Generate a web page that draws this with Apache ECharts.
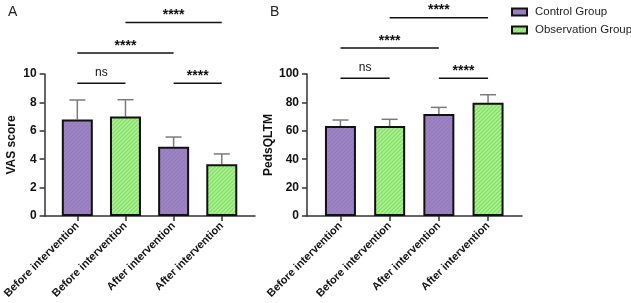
<!DOCTYPE html>
<html>
<head>
<meta charset="utf-8">
<script src="https://cdn.jsdelivr.net/npm/echarts@6/dist/echarts.min.js"></script>
<style>
  html,body{margin:0;padding:0;background:#fff;}
  #main{width:631px;height:303px;}
</style>
</head>
<body>
<div id="main"></div>
<script>
// x categories (same in both panels)
var categories = ['Before intervention', 'Before intervention', 'After intervention', 'After intervention'];
// group of each bar: 0 = Control, 1 = Observation
var groupOf = [0, 1, 0, 1];
var groupNames = ['Control Group', 'Observation Group'];

// panel A: VAS score
var vasMean = [6.8, 7.0, 4.88, 3.64];
var vasSd = [1.37, 1.19, 0.68, 0.73];
// panel B: PedsQLTM
var pedsMean = [63.4, 63.4, 71.8, 79.8];
var pedsSd = [4.2, 4.7, 4.7, 5.6];

// significance brackets: [from, to, level, label]
var sigPairs = [
  [0, 1, 0, 'ns'],
  [2, 3, 0, '****'],
  [0, 2, 1, '****'],
  [1, 3, 2, '****']
];

var font = 'Liberation Sans, Arial, sans-serif';

function stripes(base, line){
  var c = document.createElement('canvas');
  c.width = 4; c.height = 4;
  var ctx = c.getContext('2d');
  ctx.fillStyle = base;
  ctx.fillRect(0, 0, 4, 4);
  ctx.strokeStyle = line;
  ctx.lineWidth = 1.2;
  ctx.beginPath();
  ctx.moveTo(-1, 5); ctx.lineTo(5, -1);
  ctx.moveTo(-1, 1); ctx.lineTo(1, -1);
  ctx.moveTo(3, 5); ctx.lineTo(5, 3);
  ctx.stroke();
  return {image: c, repeat: 'repeat'};
}
var fills = [stripes('#7c8ede', '#c46c92'), stripes('#86e46c', '#b9f09c')];

function barData(means, g){
  var out = [];
  means.forEach(function(v, i){
    if (groupOf[i] === g) out.push([i, v]);
  });
  return out;
}

function panel(idx, means, sds, yMax, yInt, yName){
  var series = [];
  [0, 1].forEach(function(g){
    series.push({
      name: groupNames[g],
      type: 'bar',
      xAxisIndex: idx, yAxisIndex: idx,
      barWidth: 31,
      barGap: '-100%',
      itemStyle: {color: fills[g], borderColor: '#111', borderWidth: 2},
      data: barData(means, g),
      z: 3
    });
  });
  // error bars (upper only)
  series.push({
    type: 'custom',
    xAxisIndex: idx, yAxisIndex: idx,
    z: 2,
    renderItem: function(params, api){
      var x = api.value(0), m = api.value(1), s = api.value(2);
      var p0 = api.coord([x, m]);
      var p1 = api.coord([x, m + s]);
      var st = {stroke: '#7a7a7a', lineWidth: 1.5};
      return {type: 'group', children: [
        {type: 'line', shape: {x1: p0[0], y1: p0[1], x2: p1[0], y2: p1[1]}, style: st},
        {type: 'line', shape: {x1: p1[0] - 8, y1: p1[1], x2: p1[0] + 8, y2: p1[1]}, style: st}
      ]};
    },
    data: means.map(function(v, i){ return [i, v, sds[i]]; })
  });
  // significance brackets
  var topVal = Math.max.apply(null, means.map(function(v, i){ return v + sds[i]; }));
  series.push({
    type: 'custom',
    xAxisIndex: idx, yAxisIndex: idx,
    clip: false,
    z: 5,
    renderItem: function(params, api){
      var a = api.value(0), b = api.value(1), lv = api.value(2);
      var label = sigPairs[params.dataIndex][3];
      var base = api.coord([0, topVal])[1] - 16.5;
      var y = base - lv * 30.3;
      var x1 = api.coord([a, 0])[0], x2 = api.coord([b, 0])[0];
      var isNs = label === 'ns';
      return {type: 'group', children: [
        {type: 'line', shape: {x1: x1, y1: y, x2: x2, y2: y}, style: {stroke: '#111', lineWidth: 1.5}},
        {type: 'text', x: (x1 + x2) / 2, y: y - (isNs ? 10.5 : 7),
         style: {text: label, align: 'center', verticalAlign: 'middle',
                 font: (isNs ? 'normal 12px ' : 'bold 14px ') + font, fill: '#111'}}
      ]};
    },
    data: sigPairs.map(function(p){ return [p[0], p[1], p[2]]; })
  });
  return {
    series: series,
    xAxis: {
      gridIndex: idx,
      type: 'value',
      min: -0.68, max: 3.69,
      splitLine: {show: false},
      axisLine: {onZero: false, lineStyle: {color: '#333', width: 1.5}},
      axisTick: {customValues: [0, 1, 2, 3], length: 5, lineStyle: {color: '#333', width: 1.5}},
      axisLabel: {
        customValues: [0, 1, 2, 3], rotate: 45, margin: 8,
        color: '#111', fontWeight: 'bold', fontSize: 11, fontFamily: font,
        formatter: function(v){ return categories[Math.round(v)]; }
      }
    },
    yAxis: {
      gridIndex: idx,
      type: 'value',
      min: 0, max: yMax, interval: yInt,
      name: yName, nameLocation: 'middle', nameGap: 27, nameRotate: 90,
      nameTextStyle: {color: '#111', fontWeight: 'bold', fontSize: 12, fontFamily: font},
      splitLine: {show: false},
      axisLine: {show: true, onZero: false, lineStyle: {color: '#333', width: 1.5}},
      axisTick: {show: true, length: 5, lineStyle: {color: '#333', width: 1.5}},
      axisLabel: {color: '#111', fontWeight: 'bold', fontSize: 12, fontFamily: font, margin: 8}
    }
  };
}

var pA = panel(0, vasMean, vasSd, 10, 2, 'VAS score');
var pB = panel(1, pedsMean, pedsSd, 100, 20, 'PedsQLTM');

var chart = echarts.init(document.getElementById('main'));
chart.setOption({
  animation: false,
  title: [
    {text: 'A', left: 3, top: 0, textStyle: {fontSize: 14, fontWeight: 'normal', color: '#222', fontFamily: font}},
    {text: 'B', left: 265, top: 0, textStyle: {fontSize: 14, fontWeight: 'normal', color: '#222', fontFamily: font}}
  ],
  legend: {
    data: groupNames,
    orient: 'vertical',
    left: 506, top: 1,
    icon: 'rect',
    itemWidth: 15, itemHeight: 7, itemGap: 6,
    textStyle: {fontSize: 11.5, color: '#222', fontFamily: font, padding: [0, 0, 0, 3]}
  },
  grid: [
    {left: 41, top: 74, width: 214, height: 142},
    {left: 307, top: 74, width: 215, height: 142}
  ],
  xAxis: [pA.xAxis, pB.xAxis],
  yAxis: [pA.yAxis, pB.yAxis],
  series: pA.series.concat(pB.series)
});
</script>
</body>
</html>
